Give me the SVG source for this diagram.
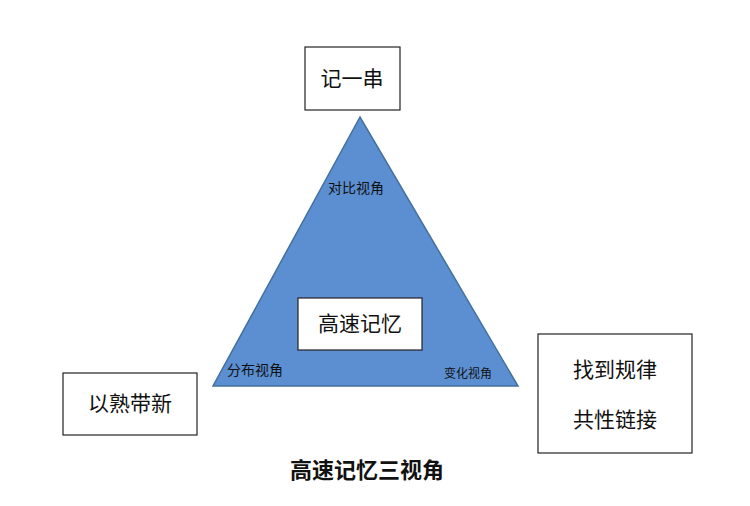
<svg xmlns="http://www.w3.org/2000/svg" width="750" height="506" viewBox="0 0 750 506">
<style>
.box{fill:#fff;stroke:#222;stroke-width:1.2}
.t{font-family:"Liberation Sans","Noto Sans CJK SC",sans-serif;fill:#111}
.big{font-size:21px}
.sm{font-size:14px}
</style>
<rect width="750" height="506" fill="#fff"/>
<g id="triangle"><polygon points="360,117 213,386 518,386" fill="#5b8fd2" stroke="#41719c" stroke-width="1.5"/>
<text class="t sm" x="328" y="193">对比视角</text>
<text class="t sm" x="227" y="375">分布视角</text>
<text class="t" font-size="12" x="444" y="378">变化视角</text></g>
<g id="top"><rect class="box" x="305" y="47" width="95" height="63"/><text class="t big" x="352" y="86" text-anchor="middle">记一串</text></g>
<g id="center"><rect class="box" x="298" y="298" width="124" height="52"/><text class="t big" x="360" y="331" text-anchor="middle">高速记忆</text></g>
<g id="left"><rect class="box" x="63" y="373" width="134" height="62"/><text class="t big" x="130" y="411" text-anchor="middle">以熟带新</text></g>
<g id="right"><rect class="box" x="538" y="334" width="154" height="119"/><text class="t big" x="615" y="377" text-anchor="middle">找到规律</text><text class="t big" x="615" y="427" text-anchor="middle">共性链接</text></g>
<g id="title"><text class="t" font-size="22" font-weight="bold" x="367" y="478" text-anchor="middle">高速记忆三视角</text></g>
<g id="connectors"/>
</svg>
